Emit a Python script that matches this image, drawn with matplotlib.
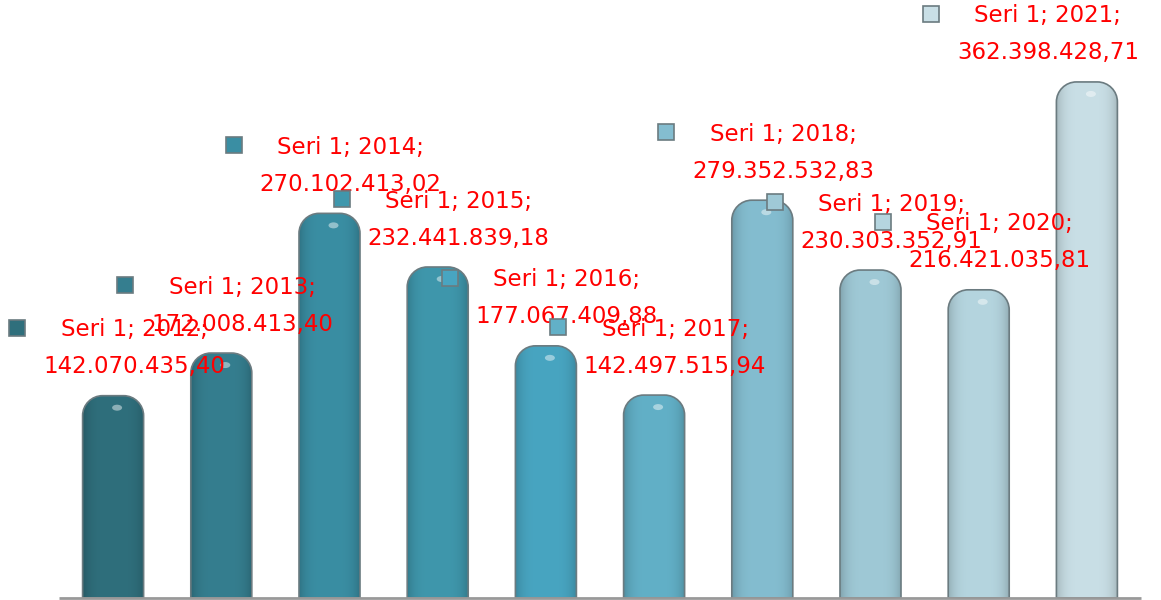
import numpy as np
import matplotlib
matplotlib.use("Agg")
import matplotlib.pyplot as plt
from matplotlib.path import Path
from matplotlib.patches import PathPatch, Ellipse
from matplotlib.colors import to_rgb
from matplotlib.transforms import offset_copy

years = ["2012", "2013", "2014", "2015", "2016", "2017", "2018", "2019", "2020", "2021"]
values = [142070435.40, 172008413.40, 270102413.02, 232441839.18, 177067409.88,
          142497515.94, 279352532.83, 230303352.91, 216421035.81, 362398428.71]
labels = ["142.070.435,40", "172.008.413,40", "270.102.413,02", "232.441.839,18",
          "177.067.409,88", "142.497.515,94", "279.352.532,83", "230.303.352,91",
          "216.421.035,81", "362.398.428,71"]
colors = ["#2F6F7C", "#357E8F", "#3A8EA3", "#3F97AC", "#48A5C1",
          "#62B0C7", "#84BDD0", "#9FC9D6", "#B5D5DF", "#C9DFE6"]

W, H = 1161, 600
fig = plt.figure(figsize=(W / 100, H / 100), dpi=100)
ax = fig.add_axes([59 / W, 2 / H, 1082 / W, 598 / H])
ax.set_xlim(-0.5, 9.5)
ymax = 598 / 1.424 * 1e6
ax.set_ylim(0, ymax)
ax.axis("off")

# px -> data scale
sx = 10 / 1082
sy = ymax / 598
bw = 61 * sx
rx, ry = 20 * sx, 20 * sy
k = 0.5523


def rounded_bar(xc, h):
    x0, x1 = xc - bw / 2, xc + bw / 2
    verts = [(x0, 0), (x0, h - ry),
             (x0, h - ry + k * ry), (x0 + rx - k * rx, h), (x0 + rx, h),
             (x1 - rx, h),
             (x1 - rx + k * rx, h), (x1, h - ry + k * ry), (x1, h - ry),
             (x1, 0), (x0, 0)]
    codes = [Path.MOVETO, Path.LINETO,
             Path.CURVE4, Path.CURVE4, Path.CURVE4,
             Path.LINETO,
             Path.CURVE4, Path.CURVE4, Path.CURVE4,
             Path.LINETO, Path.CLOSEPOLY]
    return Path(verts, codes)


for i, (v, c) in enumerate(zip(values, colors)):
    path = rounded_bar(i, v)
    base = np.array(to_rgb(c))
    t = np.linspace(-1, 1, 64)
    shade = 1 - 0.18 * np.abs(t) ** 4
    grad = np.clip(base[None, :] * shade[:, None], 0, 1)[None, :, :]
    im = ax.imshow(grad, extent=[i - bw / 2, i + bw / 2, 0, v], aspect="auto",
                   zorder=2, interpolation="bilinear")
    patch = PathPatch(path, facecolor="none", edgecolor="#6B7B80", lw=1.2, zorder=3)
    ax.add_patch(patch)
    im.set_clip_path(patch)
    hl = Ellipse((i + 4 * sx, v - 12 * sy), 10 * sx, 6 * sy,
                 facecolor="white", edgecolor="none", alpha=0.45, zorder=4)
    ax.add_patch(hl)

ax.plot([-0.5, 9.5], [0, 0], color="#999999", lw=2, zorder=5, clip_on=False,
        solid_capstyle="butt")

# data labels
for i, (y, v, lab, c) in enumerate(zip(years, values, labels, colors)):
    dx = 21 if i < 9 else -39
    tr1 = offset_copy(ax.transData, fig=fig, x=dx, y=66, units="dots")
    tr2 = offset_copy(ax.transData, fig=fig, x=dx, y=29, units="dots")
    ax.text(i, v, f"Seri 1; {y};", transform=tr1, ha="center", va="center",
            color="red", fontsize=16.5, zorder=6)
    ax.text(i, v, lab, transform=tr2, ha="center", va="center",
            color="red", fontsize=16.5, zorder=6)
    trm = offset_copy(ax.transData, fig=fig, x=dx - 117, y=68, units="dots")
    ax.plot([i], [v], marker="s", markersize=11, markerfacecolor=c,
            markeredgecolor="#6B7B80", markeredgewidth=1.2, transform=trm,
            zorder=6, clip_on=False)

fig.savefig("out.png", dpi=100)
